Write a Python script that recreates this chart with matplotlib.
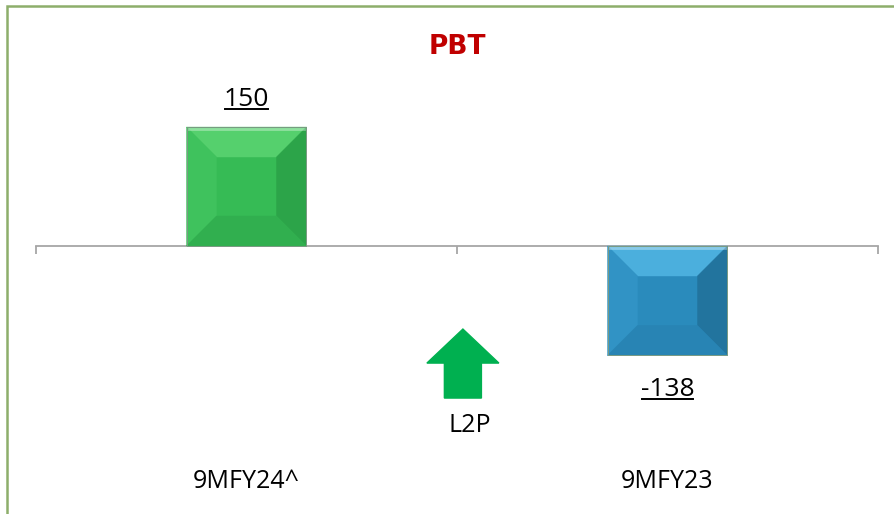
import matplotlib
matplotlib.use("Agg")
import matplotlib.pyplot as plt
from matplotlib.patches import Polygon, Rectangle, FancyArrow
from matplotlib.lines import Line2D

# chart data
categories = ["9MFY24^", "9MFY23"]
pbt_values = [150, -138]
value_labels = ["150", "-138"]
face_colors = ["#36BB55", "#2A8BBC"]
# bevel shades per bar: top, left, right, bottom
bevel_colors = [
    ["#55D06D", "#3FC25D", "#2CA449", "#31AF4F"],
    ["#4BAFDD", "#3193C5", "#22749E", "#2884B4"],
]
title = "PBT"
arrow_label = "L2P"

W, H = 895, 514
fig = plt.figure(figsize=(W / 100, H / 100), dpi=100)
fig.patch.set_facecolor("white")

# axes placed in pixel terms (left 36, right 878, top 60, bottom 480)
ax = fig.add_axes([36 / W, 34 / H, 842 / W, 420 / H])
ax.set_xlim(-0.5, 1.5)
ax.set_ylim(-295, 234.5)
ax.set_facecolor("none")

for s in ["top", "left", "right"]:
    ax.spines[s].set_visible(False)
ax.spines["bottom"].set_position(("data", 0))
ax.spines["bottom"].set_color("#A6A6A6")
ax.spines["bottom"].set_linewidth(1.3)
ax.set_xticks([-0.5, 0.5, 1.5])
ax.set_xticklabels([])
ax.tick_params(axis="x", direction="out", length=6, width=1.3, color="#A6A6A6")
ax.set_yticks([])

x = list(range(len(categories)))
bars = ax.bar(x, pbt_values, width=0.285, color=face_colors,
              edgecolor="none", zorder=3)

# bevel look: four trapezoids inside each bar, built from the bar geometry
to_px = ax.transData
to_data = ax.transData.inverted()
bev = 30
for bar, shades in zip(bars, bevel_colors):
    x0, y0 = bar.get_x(), bar.get_y()
    x1, y1 = x0 + bar.get_width(), y0 + bar.get_height()
    (px0, py0), (px1, py1) = to_px.transform([(x0, min(y0, y1)), (x1, max(y0, y1))])
    outer = [(px0, py1), (px1, py1), (px1, py0), (px0, py0)]
    inner = [(px0 + bev, py1 - bev), (px1 - bev, py1 - bev),
             (px1 - bev, py0 + bev), (px0 + bev, py0 + bev)]
    sides = {
        "top": [outer[0], outer[1], inner[1], inner[0]],
        "right": [outer[1], outer[2], inner[2], inner[1]],
        "bottom": [outer[2], outer[3], inner[3], inner[2]],
        "left": [outer[3], outer[0], inner[0], inner[3]],
    }
    for name, col in zip(["top", "left", "right", "bottom"], shades):
        pts = to_data.transform(sides[name])
        ax.add_patch(Polygon(pts, closed=True, facecolor=col,
                             edgecolor=col, linewidth=0.3, zorder=4))
    # thin light rim along the top edge
    rim = to_data.transform([(px0 + 2, py1 - 2), (px1 - 2, py1 - 2)])
    ax.plot(rim[:, 0], rim[:, 1], color="#FFFFFF", alpha=0.35, linewidth=2,
            zorder=5)
    ax.add_patch(Rectangle((x0, y0), bar.get_width(), bar.get_height(),
                           facecolor="none", edgecolor="#7A9A82",
                           linewidth=0.7, zorder=5))

# value labels, underlined
texts = []
for xi, v, lab in zip(x, pbt_values, value_labels):
    off = 21 if v >= 0 else -41
    t = ax.annotate(lab, (xi, v), xytext=(0, off), textcoords="offset pixels",
                    ha="center", va="baseline", fontsize=19,
                    family="Open Sans", color="#000000", zorder=6)
    texts.append(t)

fig.canvas.draw()
renderer = fig.canvas.get_renderer()
for t in texts:
    bb = t.get_window_extent(renderer)
    yline = bb.y0 + 3
    fig.add_artist(Line2D([bb.x0 / W + 0.001, bb.x1 / W - 0.001],
                          [yline / H, yline / H], transform=fig.transFigure,
                          color="#000000", linewidth=1.4))

# category labels at the bottom
for xi, cat in zip(x, categories):
    fig.text(ax.transData.transform((xi, 0))[0] / W, 1 - 482 / H, cat,
             ha="center", va="center", fontsize=18, family="Open Sans")

# loss-to-profit arrow
ax.add_patch(FancyArrow(0.514, -191.7, 0, 87, width=0.088, head_width=0.171,
                        head_length=42.9, length_includes_head=True,
                        color="#00B050", zorder=5))
ax.text(0.531, -226, arrow_label, ha="center", va="center", fontsize=18,
        family="Open Sans")

fig.text(457 / W, 1 - 47 / H, title, ha="center", va="center", fontsize=19,
         fontweight="bold", family="DejaVu Sans", color="#C00000")

# outer green frame (right and bottom fall outside the image)
fig.add_artist(Rectangle((7 / W, -0.05), 1.0, 1 - 6 / H + 0.05,
                         transform=fig.transFigure, facecolor="none",
                         edgecolor="#8DAE6B", linewidth=1.8))

fig.savefig("out.png", dpi=100)
